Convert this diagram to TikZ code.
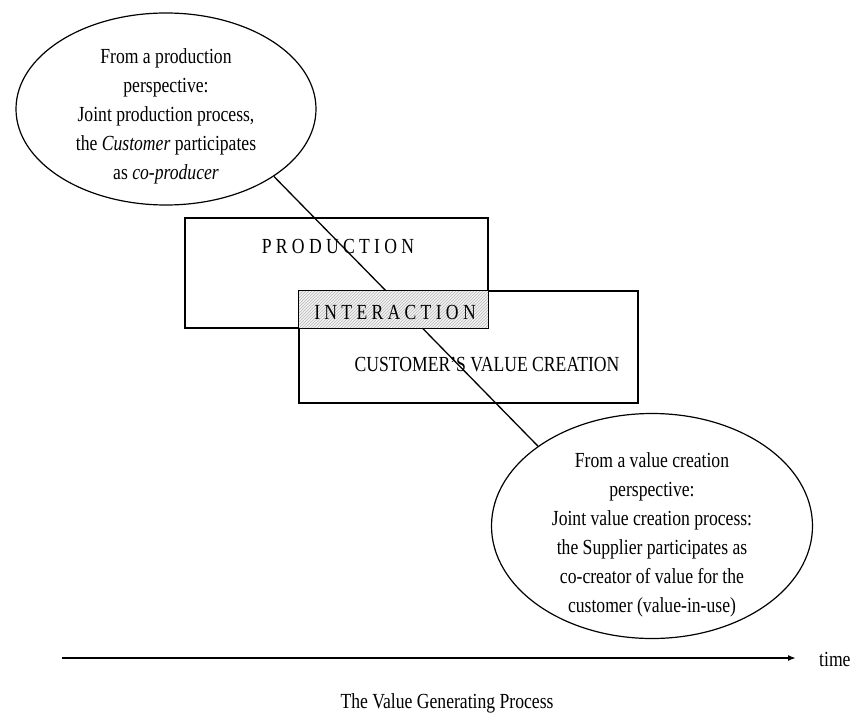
\documentclass[tikz,border=0pt]{standalone}
\usepackage{fontspec}
\setmainfont{Liberation Serif}[FakeStretch=0.82]
\usetikzlibrary{arrows.meta,shapes.geometric,patterns}

\tikzset{
  bubble/.style={draw, ellipse, line width=1.2pt, inner sep=0pt},
  bubtxt/.style={inner sep=0pt, align=center, font=\fontsize{21.5}{29}\selectfont},
  phasebox/.style={draw, rectangle, line width=1.4pt, inner sep=0pt},
  phaselbl/.style={inner sep=0pt, font=\fontsize{21.5}{24}\selectfont\addfontfeature{LetterSpace=20}},
  txt/.style={inner sep=0pt, font=\fontsize{21.5}{24}\selectfont}
}

\begin{document}
\begin{tikzpicture}[x=1pt,y=-1pt]
    \useasboundingbox (0,0) rectangle (853,714);
    % perspectives
    \node[bubble, minimum width=300pt, minimum height=192pt] (prodview) at (166,109) {};
    \node[bubtxt] (prodtxt) at (166,116)
      {From a production\\perspective:\\Joint production process,\\the \textit{Customer} participates\\as \textit{co-producer}};
    \node[bubble, minimum width=321pt, minimum height=225pt] (valueview) at (652,526) {};
    \node[bubtxt] (valuetxt) at (652,535)
      {From a value creation\\perspective:\\Joint value creation process:\\the Supplier participates as\\co-creator of value for the\\customer (value-in-use)};
    \draw[line width=1.3pt] (prodview.-32) -- (valueview.145);

    % overlapping spheres
    \node[phasebox, minimum width=303pt, minimum height=110pt] (prodbox) at (336.5,273) {};
    \node[phasebox, minimum width=339pt, minimum height=112pt] (custbox) at (468.5,347) {};
    \fill[gray!10] (custbox.north west) rectangle (prodbox.south east);
    \fill[pattern=north east lines, pattern color=gray!55] (custbox.north west) rectangle (prodbox.south east);
    \draw[line width=1.4pt] (prodbox.north west) rectangle (prodbox.south east);
    \draw[line width=1.4pt] (custbox.north west) rectangle (custbox.south east);
    \node[phaselbl] (prodlbl) at (338,246) {PRODUCTION};
    \node[phaselbl] (interlbl) at (395,312) {INTERACTION};
    \node[txt] (custlbl) at (487,365) {CUSTOMER'S VALUE CREATION};

    % time axis
    \coordinate (tstart) at (62,658);
    \coordinate (tend) at (796,658);
    \draw[line width=1.7pt, -{Latex[length=8pt,width=6pt]}] (tstart) -- (tend);
    \node[txt, anchor=west] (timelbl) at (819,659) {time};
    \node[txt] (caption) at (447,703) {The Value Generating Process};
\end{tikzpicture}
\end{document}
